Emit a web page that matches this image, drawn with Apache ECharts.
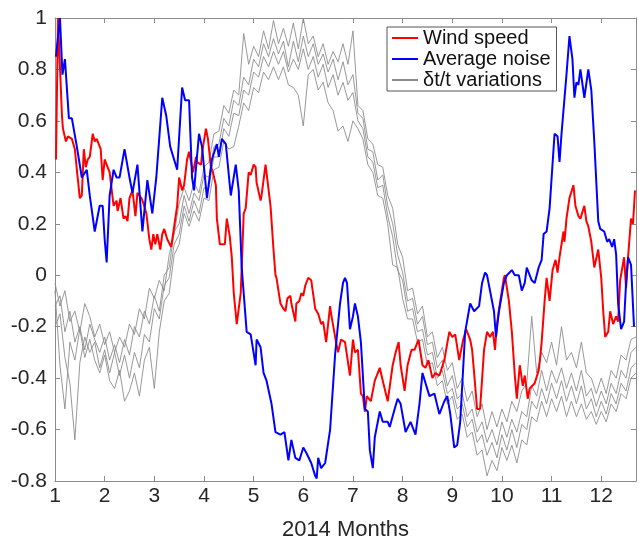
<!DOCTYPE html>
<html><head><meta charset="utf-8">
<script src="https://cdn.jsdelivr.net/npm/echarts@6/dist/echarts.min.js"></script>
<style>html,body{margin:0;padding:0;background:#fff}#c{width:639px;height:546px}</style>
</head><body><div id="c"></div>
<script>
// Month positions (x) and values (y)
const redX = [1.02,1.06,1.14,1.16,1.22,1.26,1.34,1.40,1.44,1.50,1.54,1.58,1.62,1.66,1.70,1.76,1.80,1.84,1.92,1.96,2.00,2.04,2.10,2.14,2.18,2.24,2.26,2.32,2.38,2.42,2.46,2.50,2.56,2.62,2.66,2.74,2.78,2.84,2.90,2.94,2.98,3.02,3.06,3.12,3.16,3.20,3.26,3.34,3.40,3.46,3.50,3.56,3.60,3.66,3.70,3.74,3.78,3.84,3.86,3.94,3.98,4.04,4.08,4.14,4.18,4.24,4.26,4.32,4.36,4.42,4.46,4.52,4.56,4.60,4.66,4.74,4.80,4.84,4.90,4.94,5.00,5.04,5.06,5.14,5.16,5.24,5.26,5.34,5.40,5.44,5.46,5.54,5.60,5.64,5.68,5.74,5.76,5.84,5.86,5.92,5.96,6.00,6.04,6.10,6.16,6.24,6.30,6.36,6.40,6.46,6.54,6.56,6.60,6.66,6.70,6.76,6.84,6.94,7.00,7.04,7.10,7.16,7.20,7.24,7.28,7.36,7.44,7.54,7.60,7.70,7.80,7.86,7.92,7.96,8.04,8.10,8.18,8.24,8.32,8.40,8.46,8.52,8.60,8.66,8.74,8.84,8.94,9.00,9.06,9.14,9.22,9.28,9.36,9.40,9.44,9.50,9.56,9.64,9.70,9.76,9.82,9.86,9.90,9.96,10.04,10.06,10.14,10.20,10.26,10.30,10.36,10.42,10.46,10.52,10.56,10.60,10.66,10.74,10.76,10.80,10.86,10.90,10.96,11.02,11.08,11.12,11.16,11.24,11.26,11.30,11.36,11.44,11.48,11.54,11.58,11.66,11.70,11.74,11.80,11.86,11.94,12.00,12.04,12.08,12.14,12.18,12.24,12.30,12.34,12.38,12.46,12.50,12.54,12.60,12.64,12.68];
const redY = [0.45,1.00,0.62,0.57,0.52,0.54,0.53,0.49,0.41,0.30,0.31,0.49,0.42,0.45,0.46,0.55,0.52,0.53,0.49,0.37,0.45,0.45,0.40,0.40,0.27,0.29,0.25,0.30,0.22,0.23,0.21,0.30,0.33,0.23,0.32,0.30,0.28,0.24,0.14,0.10,0.16,0.12,0.16,0.10,0.16,0.18,0.14,0.11,0.19,0.27,0.38,0.33,0.35,0.45,0.48,0.44,0.40,0.46,0.44,0.43,0.50,0.57,0.53,0.42,0.40,0.35,0.22,0.12,0.12,0.12,0.22,0.15,0.07,-0.07,-0.19,-0.07,0.24,0.26,0.40,0.39,0.43,0.42,0.36,0.29,0.31,0.43,0.43,0.27,0.10,0.00,-0.01,-0.11,-0.13,-0.14,-0.09,-0.08,-0.11,-0.18,-0.11,-0.10,-0.07,-0.08,-0.04,-0.01,-0.02,-0.13,-0.15,-0.19,-0.18,-0.26,-0.12,-0.15,-0.15,-0.26,-0.30,-0.25,-0.26,-0.39,-0.25,-0.30,-0.29,-0.46,-0.47,-0.53,-0.47,-0.49,-0.41,-0.36,-0.41,-0.49,-0.35,-0.30,-0.26,-0.35,-0.45,-0.35,-0.29,-0.29,-0.25,-0.35,-0.36,-0.33,-0.40,-0.38,-0.39,-0.33,-0.22,-0.24,-0.23,-0.33,-0.25,-0.21,-0.25,-0.29,-0.38,-0.52,-0.52,-0.29,-0.22,-0.24,-0.22,-0.29,-0.19,-0.11,-0.01,0.00,-0.10,-0.22,-0.39,-0.48,-0.35,-0.43,-0.39,-0.48,-0.44,-0.44,-0.42,-0.37,-0.34,-0.26,-0.10,-0.01,-0.10,0.02,0.06,0.01,0.07,0.17,0.13,0.22,0.30,0.35,0.27,0.23,0.22,0.27,0.21,0.19,0.13,0.03,0.10,-0.01,-0.14,-0.24,-0.22,-0.14,-0.19,-0.16,-0.18,-0.02,0.07,-0.05,0.07,0.22,0.20,0.33];

const blueX = [1.02,1.10,1.15,1.20,1.28,1.34,1.44,1.54,1.58,1.64,1.70,1.80,1.84,1.90,1.96,2.00,2.04,2.10,2.18,2.24,2.30,2.40,2.50,2.56,2.66,2.76,2.86,2.96,3.04,3.08,3.16,3.24,3.32,3.36,3.46,3.56,3.62,3.70,3.76,3.80,3.90,3.96,4.06,4.16,4.26,4.30,4.36,4.44,4.54,4.64,4.70,4.76,4.86,4.94,5.04,5.06,5.14,5.20,5.26,5.36,5.44,5.54,5.62,5.70,5.76,5.84,5.92,6.00,6.06,6.16,6.24,6.27,6.30,6.36,6.44,6.54,6.64,6.74,6.80,6.84,6.88,6.94,7.00,7.04,7.10,7.16,7.24,7.30,7.34,7.40,7.44,7.54,7.60,7.70,7.74,7.84,7.90,7.96,8.06,8.16,8.26,8.34,8.40,8.44,8.54,8.64,8.74,8.84,8.90,8.96,9.04,9.10,9.16,9.26,9.36,9.44,9.54,9.60,9.66,9.70,9.76,9.84,9.88,9.94,10.04,10.10,10.20,10.26,10.34,10.40,10.46,10.50,10.60,10.66,10.74,10.80,10.84,10.90,10.96,11.06,11.12,11.16,11.20,11.30,11.36,11.42,11.46,11.50,11.54,11.58,11.66,11.74,11.80,11.86,11.94,11.98,12.06,12.12,12.16,12.22,12.26,12.30,12.34,12.40,12.46,12.50,12.54,12.60,12.66];
const blueY = [0.85,1.00,0.78,0.84,0.61,0.61,0.50,0.38,0.38,0.41,0.31,0.17,0.17,0.27,0.27,0.14,0.05,0.31,0.41,0.38,0.38,0.49,0.38,0.32,0.43,0.17,0.37,0.24,0.38,0.38,0.69,0.62,0.50,0.50,0.41,0.73,0.68,0.68,0.38,0.33,0.55,0.50,0.30,0.45,0.51,0.46,0.53,0.51,0.31,0.43,0.33,0.03,-0.22,-0.23,-0.35,-0.25,-0.28,-0.38,-0.41,-0.50,-0.61,-0.62,-0.61,-0.72,-0.64,-0.71,-0.72,-0.67,-0.69,-0.73,-0.78,-0.79,-0.71,-0.75,-0.73,-0.60,-0.31,-0.11,-0.03,-0.01,-0.03,-0.21,-0.16,-0.11,-0.16,-0.26,-0.52,-0.53,-0.68,-0.75,-0.63,-0.53,-0.57,-0.57,-0.59,-0.52,-0.48,-0.50,-0.61,-0.57,-0.62,-0.50,-0.38,-0.38,-0.47,-0.46,-0.54,-0.49,-0.47,-0.54,-0.67,-0.66,-0.57,-0.22,-0.11,-0.14,-0.12,-0.03,0.01,0.00,-0.06,-0.14,-0.24,-0.14,-0.03,0.00,0.02,0.00,0.00,-0.06,-0.03,0.03,-0.02,-0.03,0.03,0.06,0.16,0.17,0.26,0.55,0.54,0.44,0.55,0.78,0.93,0.84,0.69,0.75,0.74,0.80,0.69,0.80,0.72,0.52,0.21,0.18,0.17,0.13,0.14,0.11,0.14,0.08,-0.11,-0.21,-0.18,-0.03,0.07,0.04,-0.20];

// dt/t curves sampled every 0.1 month from 1.0 to 12.7
const grayX = Array.from({length: 118}, (_, i) => +(1 + i * 0.1).toFixed(1));
const gray1 = [-0.03,-0.12,-0.06,-0.18,-0.14,-0.22,-0.11,-0.16,-0.24,-0.19,-0.27,-0.22,-0.30,-0.24,-0.28,-0.19,-0.23,-0.13,-0.17,-0.05,-0.09,-0.02,-0.06,0.08,0.16,0.28,0.34,0.29,0.36,0.32,0.42,0.44,0.55,0.56,0.66,0.63,0.72,0.70,0.94,0.82,0.89,0.85,0.95,0.88,0.99,0.90,0.96,0.89,0.98,0.88,1.00,0.90,0.93,0.85,0.90,0.82,0.87,0.83,0.90,0.82,0.95,0.66,0.64,0.53,0.51,0.43,0.42,0.31,0.26,0.12,0.07,-0.06,-0.05,-0.15,-0.12,-0.24,-0.22,-0.32,-0.28,-0.37,-0.34,-0.44,-0.40,-0.49,-0.45,-0.55,-0.50,-0.60,-0.53,-0.59,-0.52,-0.57,-0.49,-0.53,-0.45,-0.42,-0.16,-0.38,-0.30,-0.34,-0.26,-0.35,-0.20,-0.33,-0.30,-0.36,-0.26,-0.38,-0.40,-0.46,-0.40,-0.46,-0.37,-0.40,-0.31,-0.33,-0.25,-0.24];
const gray2 = [-0.12,-0.08,-0.22,-0.14,-0.26,-0.20,-0.29,-0.19,-0.25,-0.30,-0.24,-0.33,-0.27,-0.34,-0.25,-0.31,-0.20,-0.24,-0.14,-0.19,-0.08,-0.14,0.00,0.03,0.17,0.20,0.31,0.24,0.32,0.29,0.39,0.38,0.50,0.51,0.61,0.58,0.68,0.66,0.77,0.74,0.84,0.81,0.90,0.85,0.92,0.86,0.91,0.81,0.91,0.83,0.93,0.85,0.90,0.82,0.86,0.79,0.84,0.76,0.83,0.74,0.78,0.63,0.61,0.49,0.48,0.37,0.39,0.27,0.20,0.08,0.01,-0.10,-0.09,-0.19,-0.16,-0.27,-0.26,-0.36,-0.33,-0.43,-0.39,-0.48,-0.46,-0.55,-0.52,-0.61,-0.57,-0.65,-0.60,-0.66,-0.57,-0.63,-0.56,-0.61,-0.53,-0.55,-0.43,-0.47,-0.37,-0.45,-0.37,-0.42,-0.36,-0.44,-0.38,-0.45,-0.37,-0.47,-0.44,-0.51,-0.45,-0.50,-0.42,-0.46,-0.37,-0.40,-0.30,-0.28];
const gray3 = [-0.20,-0.15,-0.32,-0.42,-0.64,-0.34,-0.24,-0.30,-0.26,-0.36,-0.29,-0.38,-0.30,-0.39,-0.31,-0.40,-0.30,-0.36,-0.23,-0.26,-0.13,-0.17,-0.04,-0.01,0.12,0.16,0.27,0.21,0.29,0.24,0.34,0.34,0.46,0.46,0.57,0.54,0.63,0.62,0.72,0.70,0.79,0.77,0.85,0.81,0.87,0.82,0.87,0.79,0.84,0.80,0.88,0.80,0.85,0.77,0.82,0.73,0.78,0.70,0.75,0.68,0.71,0.60,0.57,0.46,0.44,0.34,0.35,0.23,0.15,0.02,-0.02,-0.14,-0.13,-0.22,-0.21,-0.31,-0.30,-0.40,-0.37,-0.46,-0.44,-0.52,-0.50,-0.59,-0.56,-0.65,-0.62,-0.70,-0.65,-0.71,-0.62,-0.68,-0.60,-0.67,-0.58,-0.60,-0.49,-0.52,-0.44,-0.50,-0.42,-0.48,-0.41,-0.49,-0.43,-0.50,-0.43,-0.52,-0.48,-0.55,-0.49,-0.54,-0.46,-0.50,-0.42,-0.45,-0.36,-0.34];
const gray4 = [-0.06,-0.35,-0.52,-0.26,-0.33,-0.21,-0.32,-0.25,-0.33,-0.38,-0.31,-0.41,-0.44,-0.37,-0.49,-0.45,-0.38,-0.47,-0.33,-0.28,-0.44,-0.22,-0.10,-0.07,0.08,0.12,0.24,0.19,0.25,0.21,0.30,0.29,0.41,0.42,0.52,0.49,0.50,0.58,0.67,0.64,0.73,0.71,0.79,0.76,0.81,0.76,0.81,0.74,0.73,0.70,0.58,0.78,0.80,0.72,0.75,0.67,0.64,0.56,0.58,0.52,0.60,0.57,0.53,0.43,0.40,0.31,0.30,0.20,0.04,0.03,-0.09,-0.17,-0.17,-0.26,-0.25,-0.35,-0.34,-0.43,-0.41,-0.50,-0.47,-0.56,-0.54,-0.63,-0.61,-0.70,-0.68,-0.78,-0.72,-0.76,-0.67,-0.72,-0.66,-0.73,-0.64,-0.66,-0.55,-0.57,-0.49,-0.55,-0.48,-0.53,-0.47,-0.55,-0.49,-0.55,-0.50,-0.56,-0.53,-0.58,-0.53,-0.57,-0.50,-0.53,-0.46,-0.48,-0.40,-0.38];

const xTicks = [1,2,3,4,5,6,7,8,9,10,11,12];
const names = ['Wind speed','Average noise','\u03b4t/t variations'];

const zip = (xs, ys) => xs.map((x, i) => [x, ys[i]]);
const FONT = 'Liberation Sans, Arial, Helvetica, sans-serif';
const AX = '#8c8c8c';
const GRAY = '#8c8c8c';

const grays = [gray1, gray2, gray3, gray4].map(g => ({
  name: names[2], type: 'line', data: zip(grayX, g), symbol: 'none',
  lineStyle: {color: GRAY, width: 0.9}, itemStyle: {color: GRAY}, z: 2
}));

const chart = echarts.init(document.getElementById('c'), null, {renderer: 'canvas'});
chart.setOption({
  animation: false,
  backgroundColor: '#ffffff',
  grid: {left: 55, top: 18, width: 585, height: 473, containLabel: false},
  legend: {
    data: names, orient: 'vertical', left: 387, top: 27, itemGap: 1,
    itemWidth: 26, itemHeight: 14, padding: [1, 6, 1, 4],
    borderColor: '#555', borderWidth: 1, backgroundColor: '#fff',
    itemStyle: {opacity: 0},
    textStyle: {fontFamily: FONT, fontSize: 20, color: '#111'},
    selectedMode: false
  },
  xAxis: [{
    type: 'value', min: 1, max: 12.7, interval: 1, position: 'bottom',
    name: '2014 Months', nameLocation: 'middle', nameGap: 38,
    nameTextStyle: {fontFamily: FONT, fontSize: 22, color: '#262626'},
    axisLine: {onZero: false, lineStyle: {color: AX, width: 1}},
    axisTick: {inside: true, length: 5, lineStyle: {color: AX}},
    axisLabel: {fontFamily: FONT, fontSize: 21, color: '#262626', margin: 5,
      formatter: v => xTicks.includes(Math.round(v * 1000) / 1000) ? String(v) : ''},
    splitLine: {show: false}
  }, {
    type: 'value', min: 1, max: 12.7, interval: 1, position: 'top',
    axisLine: {onZero: false, lineStyle: {color: AX, width: 1}},
    axisTick: {inside: true, length: 5, lineStyle: {color: AX}},
    axisLabel: {show: false}, splitLine: {show: false}
  }],
  yAxis: [{
    type: 'value', min: -0.8, max: 1, interval: 0.2, position: 'left',
    axisLine: {show: true, onZero: false, lineStyle: {color: AX, width: 1}},
    axisTick: {show: true, inside: true, length: 5, lineStyle: {color: AX}},
    axisLabel: {fontFamily: FONT, fontSize: 21, color: '#262626', margin: 8,
      formatter: v => String(+v.toFixed(1))},
    splitLine: {show: false}
  }, {
    type: 'value', min: -0.8, max: 1, interval: 0.2, position: 'right',
    axisLine: {show: true, onZero: false, lineStyle: {color: AX, width: 1}},
    axisTick: {show: true, inside: true, length: 5, lineStyle: {color: AX}},
    axisLabel: {show: false}, splitLine: {show: false}
  }],
  series: [
    ...grays,
    {name: names[0], type: 'line', data: zip(redX, redY), symbol: 'none',
     lineStyle: {color: '#ff0000', width: 2}, itemStyle: {color: '#ff0000'}, z: 3},
    {name: names[1], type: 'line', data: zip(blueX, blueY), symbol: 'none',
     lineStyle: {color: '#0000ff', width: 2}, itemStyle: {color: '#0000ff'}, z: 4}
  ]
});
</script></body></html>
